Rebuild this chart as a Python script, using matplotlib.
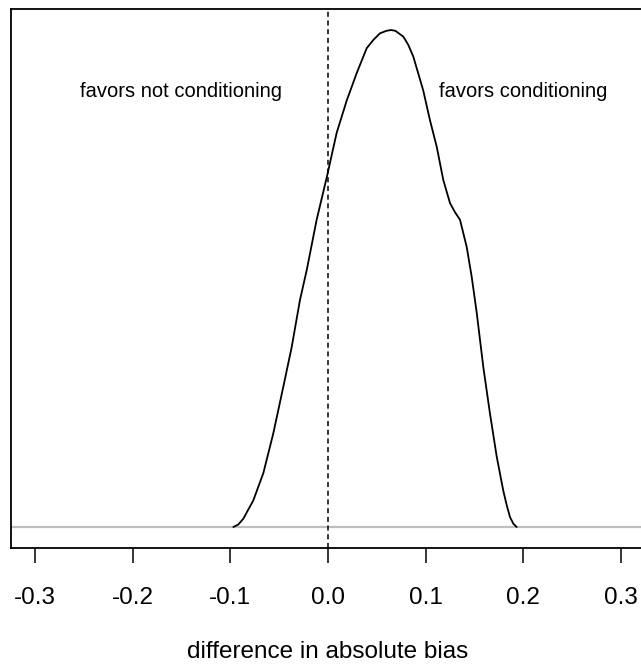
import matplotlib
matplotlib.use("Agg")
import matplotlib.pyplot as plt

# density of the difference in absolute bias
diff = [-0.0969, -0.0918, -0.0867, -0.0816, -0.0765, -0.0662, -0.0560, -0.0458,
        -0.0372, -0.0287, -0.0218, -0.0116, -0.0013, 0.0089, 0.0192, 0.0294,
        0.0396, 0.0464, 0.0532, 0.0598, 0.0645, 0.0690, 0.0771, 0.0822,
        0.0873, 0.0975, 0.1044, 0.1113, 0.1180, 0.1249, 0.1300, 0.1351,
        0.1420, 0.1471, 0.1522, 0.1590, 0.1658, 0.1727, 0.1794, 0.1830,
        0.1863, 0.1897, 0.1931]
dens = [0.00, 0.03, 0.10, 0.21, 0.32, 0.65, 1.13, 1.69,
        2.17, 2.74, 3.10, 3.71, 4.22, 4.76, 5.15, 5.48,
        5.78, 5.88, 5.96, 5.99, 6.00, 5.99, 5.92, 5.82,
        5.68, 5.27, 4.91, 4.59, 4.19, 3.91, 3.80, 3.71,
        3.38, 3.02, 2.59, 1.93, 1.37, 0.85, 0.44, 0.26,
        0.12, 0.04, 0.00]

xticks = [-0.3, -0.2, -0.1, 0.0, 0.1, 0.2, 0.3]
xticklabels = ["-0.3", "-0.2", "-0.1", "0.0", "0.1", "0.2", "0.3"]

plt.rcParams['font.family'] = ['Liberation Sans', 'DejaVu Sans']

fig = plt.figure(figsize=(6.41, 6.70), dpi=100)
ax = fig.add_axes([11 / 641, 1 - 548 / 670, 634 / 641, 539 / 670])

ax.axhline(0, color='#bebebe', lw=1.6, zorder=1)
ax.axvline(0, color='black', lw=1.1, dashes=(3.3, 2.4), zorder=2)
ax.plot(diff, dens, color='black', lw=1.3, zorder=3,
        solid_joinstyle='round', solid_capstyle='round')

ax.text(-0.15, 5.26, "favors not conditioning", ha='center', va='center', fontsize=14.5)
ax.text(0.2, 5.26, "favors conditioning", ha='center', va='center', fontsize=14.5)

ax.set_xlim(-0.3245, 0.3245)
ax.set_ylim(-0.2535, 6.2535)
ax.set_xticks(xticks)
ax.set_xticklabels(xticklabels, fontsize=17.5)
ax.tick_params(axis='x', length=11, width=1.1, pad=17, color='black')
ax.set_yticks([])
for s in ax.spines.values():
    s.set_linewidth(1.3)
    s.set_color('black')

fig.text(328 / 641, 1 - 652 / 670, "difference in absolute bias",
         ha='center', va='center', fontsize=17.5)

fig.savefig("out.png", dpi=100)
